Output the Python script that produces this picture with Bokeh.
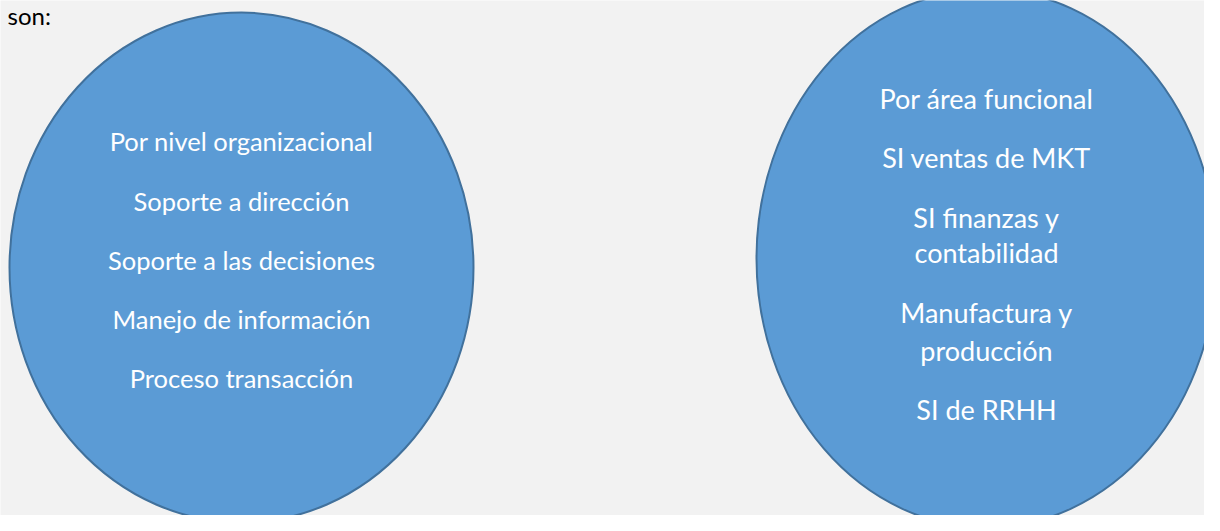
from bokeh.plotting import figure
from bokeh.models import Range1d
from bokeh.core.properties import value
from bokeh.embed import file_html
from bokeh.resources import INLINE

# data
left_items = ["Por nivel organizacional", "Soporte a dirección", "Soporte a las decisiones",
              "Manejo de información", "Proceso transacción"]
left_rows = [140, 200, 259, 318, 377]
right_items = ["Por área funcional", "SI ventas de MKT", "SI finanzas y", "contabilidad",
               "Manufactura y", "producción", "SI de RRHH"]
right_rows = [98, 157, 217, 252, 312, 350, 409]
ellipse_cx = [241, 986]
ellipse_cy = [267, 258]
ellipse_w = [464, 460]
ellipse_h = [510, 538]
intro_text = ["son:"]

W, H = 1204, 515
p = figure(width=W, height=H, output_backend="svg", toolbar_location=None,
           x_range=Range1d(0, W), y_range=Range1d(H, 0),
           min_border=0, background_fill_color="#F2F2F2", border_fill_color="#F2F2F2")
p.axis.visible = False
p.grid.visible = False
p.outline_line_color = None

p.ellipse(x=ellipse_cx, y=ellipse_cy, width=ellipse_w, height=ellipse_h,
          fill_color="#5B9BD5", line_color="#41719C", line_width=2)

p.text(x=[241] * len(left_items), y=left_rows, text=left_items,
       text_font=value("Lato"), text_font_size="25.5px", text_color="white",
       text_align="center", text_baseline="middle")
p.text(x=[986] * len(right_items), y=right_rows, text=right_items,
       text_font=value("Lato"), text_font_size="27px", text_color="white",
       text_align="center", text_baseline="middle")
p.text(x=[7], y=[0], text=intro_text, text_font=value("Lato"), text_font_size="24px",
       text_color="black", text_align="left", text_baseline="top")

open("out.html", "w").write(file_html(p, INLINE))
